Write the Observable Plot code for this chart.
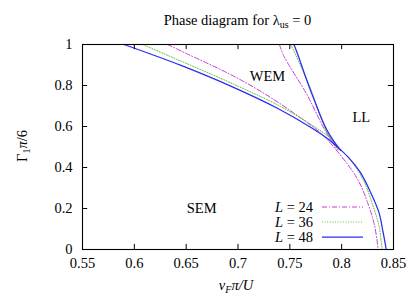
<!DOCTYPE html>
<html>
<head>
<meta charset="utf-8">
<script src="https://cdn.jsdelivr.net/npm/d3@7"></script>
<script src="https://cdn.jsdelivr.net/npm/@observablehq/plot@0.6"></script>
<style>
  body { margin: 0; background: white; }
  #chart { width: 415px; height: 297px; }
</style>
</head>
<body>
<div id="chart"></div>
<script>
// ---- data ----
const sizes = [24, 36, 48];
const colors = ["#c83fd6", "#5cc23a", "#2b2bf2"];
const dashes = ["5,2,1,2", "1,1.6", null];
const xTicks = [0.55, 0.6, 0.65, 0.7, 0.75, 0.8, 0.85];
const yTicks = [0, 0.2, 0.4, 0.6, 0.8, 1];

// SEM boundary (lower branch) for each L
const semX24 = [0.632, 0.651, 0.693, 0.725, 0.754, 0.780, 0.794, 0.815, 0.825, 0.831, 0.834, 0.835];
const semY24 = [1.000, 0.954, 0.853, 0.762, 0.665, 0.566, 0.490, 0.346, 0.229, 0.132, 0.049, 0.000];
const semX36 = [0.608, 0.645, 0.693, 0.741, 0.770, 0.789, 0.796, 0.809, 0.822, 0.830, 0.836, 0.838, 0.839];
const semY36 = [1.000, 0.919, 0.813, 0.698, 0.611, 0.543, 0.502, 0.434, 0.327, 0.215, 0.117, 0.044, 0.000];
const semX48 = [0.590, 0.645, 0.693, 0.738, 0.770, 0.789, 0.796, 0.806, 0.818, 0.828, 0.836, 0.840, 0.843];
const semY48 = [1.000, 0.898, 0.797, 0.689, 0.596, 0.531, 0.500, 0.452, 0.376, 0.278, 0.180, 0.083, 0.000];

// WEM / LL boundary (steep upper branch) for each L
const llX24 = [0.740, 0.744, 0.767, 0.784, 0.796];
const llY24 = [1.000, 0.946, 0.751, 0.580, 0.486];
const llX36 = [0.751, 0.756, 0.770, 0.785, 0.797];
const llY36 = [1.000, 0.946, 0.785, 0.580, 0.485];
const llX48 = [0.754, 0.758, 0.770, 0.786, 0.799];
const llY48 = [1.000, 0.946, 0.776, 0.580, 0.483];

const regionNames = ["WEM", "LL", "SEM"];
const regionX = [0.7285, 0.819, 0.665];
const regionY = [0.844, 0.644, 0.202];

// ---- build rows ----
const semXs = [semX24, semX36, semX48], semYs = [semY24, semY36, semY48];
const llXs = [llX24, llX36, llX48], llYs = [llY24, llY36, llY48];
const seriesRows = sizes.map((L, i) => [
  ...semXs[i].map((x, j) => ({x, y: semYs[i][j], branch: "sem"})),
  ...llXs[i].map((x, j) => ({x, y: llYs[i][j], branch: "ll"}))
]);
const regions = regionNames.map((t, i) => ({t, x: regionX[i], y: regionY[i]}));

const font = "Liberation Serif";

const plot = Plot.plot({
  width: 415,
  height: 297,
  marginLeft: 82,
  marginRight: 22,
  marginTop: 44,
  marginBottom: 48,
  style: {fontFamily: font, fontSize: "14.5px", background: "white", color: "black", overflow: "visible"},
  x: {domain: [0.55, 0.85]},
  y: {domain: [0, 1]},
  marks: [
    ...sizes.map((L, i) => Plot.line(seriesRows[i], {
      x: "x", y: "y", z: "branch", curve: "catmull-rom",
      stroke: colors[i], strokeWidth: i === 2 ? 1.25 : 1,
      strokeDasharray: dashes[i] ?? undefined
    })),
    Plot.text(regions, {x: "x", y: "y", text: "t", fontSize: 14.5, fill: "black"}),
    // inward ticks on all four sides
    Plot.ruleX(xTicks, {x: d => d, y1: 0, y2: 0.025, stroke: "black"}),
    Plot.ruleX(xTicks, {x: d => d, y1: 1, y2: 0.975, stroke: "black"}),
    Plot.ruleY(yTicks, {y: d => d, x1: 0.55, x2: 0.555, stroke: "black"}),
    Plot.ruleY(yTicks, {y: d => d, x1: 0.85, x2: 0.845, stroke: "black"}),
    Plot.axisX(xTicks, {tickSize: 0, tickPadding: 8, label: null, tickFormat: d => String(+d.toFixed(2))}),
    Plot.axisY(yTicks, {tickSize: 0, tickPadding: 10, label: null, tickFormat: d => String(+d.toFixed(1))}),
    Plot.frame({stroke: "black", strokeWidth: 1.1})
  ]
});
document.getElementById("chart").appendChild(plot);

// ---- text with sub-scripts, legend ----
const svg = d3.select(plot);
const fx0 = 82, fx1 = 393, fy1 = 249;

const title = svg.append("text")
  .attr("x", (fx0 + fx1) / 2).attr("y", 25)
  .attr("text-anchor", "middle").attr("font-family", font).attr("font-size", 14.5).attr("fill", "black");
title.append("tspan").text("Phase diagram for λ");
title.append("tspan").attr("font-size", 10).attr("dy", 3).text("us");
title.append("tspan").attr("dy", -3).text(" = 0");

const xl = svg.append("text")
  .attr("x", 236).attr("y", 290)
  .attr("text-anchor", "middle").attr("font-family", font).attr("font-size", 14.5).attr("fill", "black");
xl.append("tspan").attr("font-style", "italic").text("v");
xl.append("tspan").attr("font-style", "italic").attr("font-size", 10).attr("dy", 3).text("F");
xl.append("tspan").attr("font-style", "italic").attr("dy", -3).text("π/U");

const yl = svg.append("text")
  .attr("transform", "translate(27,146) rotate(-90)")
  .attr("text-anchor", "middle").attr("font-family", font).attr("font-size", 14.5).attr("fill", "black");
yl.append("tspan").text("Γ");
yl.append("tspan").attr("font-size", 10).attr("dy", 3).text("1");
yl.append("tspan").attr("font-style", "italic").attr("dy", -3).text("π");
yl.append("tspan").text("/6");

const leg = svg.append("g").attr("font-family", font).attr("font-size", 14.5);
sizes.forEach((L, i) => {
  const by = fy1 - 37 + i * 15;
  const t = leg.append("text").attr("x", fx1 - 80).attr("y", by).attr("text-anchor", "end").attr("fill", "black");
  t.append("tspan").attr("font-style", "italic").text("L");
  t.append("tspan").text(" = " + L);
  leg.append("line")
    .attr("x1", fx1 - 71).attr("x2", fx1 - 30)
    .attr("y1", by - 5).attr("y2", by - 5)
    .attr("stroke", colors[i]).attr("stroke-width", i === 2 ? 1.25 : 1)
    .attr("stroke-dasharray", dashes[i]);
});
</script>
</body>
</html>
